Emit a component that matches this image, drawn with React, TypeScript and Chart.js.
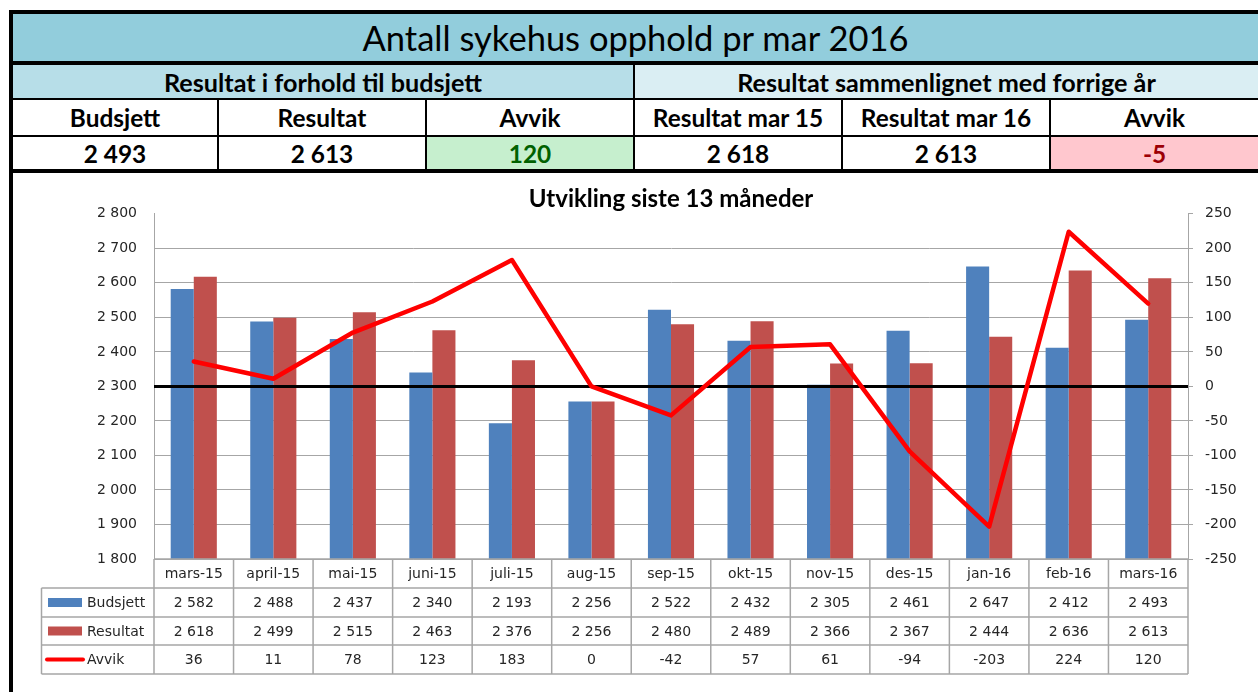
import React, { useEffect, useRef } from 'react';
import { Chart, registerables } from 'chart.js';

Chart.register(...registerables);

// ---------- data ----------
const headerTitle = 'Antall sykehus opphold pr mar 2016';
const groupHeaders = ['Resultat i forhold til budsjett', 'Resultat sammenlignet med forrige år'];
const columnHeaders = ['Budsjett', 'Resultat', 'Avvik', 'Resultat mar 15', 'Resultat mar 16', 'Avvik'];
const columnValues = [2493, 2613, 120, 2618, 2613, -5];

const chartTitle = 'Utvikling siste 13 måneder';
const categories = ['mars-15', 'april-15', 'mai-15', 'juni-15', 'juli-15', 'aug-15', 'sep-15', 'okt-15', 'nov-15', 'des-15', 'jan-16', 'feb-16', 'mars-16'];
const budsjett = [2582, 2488, 2437, 2340, 2193, 2256, 2522, 2432, 2305, 2461, 2647, 2412, 2493];
const resultat = [2618, 2499, 2515, 2463, 2376, 2256, 2480, 2489, 2366, 2367, 2444, 2636, 2613];
const avvik = [36, 11, 78, 123, 183, 0, -42, 57, 61, -94, -203, 224, 120];
const seriesNames = ['Budsjett', 'Resultat', 'Avvik'];

const leftAxis = { min: 1800, max: 2800, step: 100 };
const rightAxis = { min: -250, max: 250, step: 50 };

// ---------- style ----------
const BLUE = '#4F81BD';
const RED = '#C0504D';
const LINE = '#FF0000';
const GRID = '#A6A6A6';
const TEXT = '#262626';
const TICK_FONT = 'DejaVu Sans';
const HEAD_FONT = 'Lato';

const fmt = (v: number) => {
  const neg = v < 0;
  const s = String(Math.abs(v)).replace(/\B(?=(\d{3})+(?!\d))/g, ' ');
  return (neg ? '-' : '') + s;
};

const tablePlugin = {
  id: 'dataTablePlugin',
  beforeDatasetDraw(chart: any, args: any) {
    if (args.index !== 2) return;
    const { ctx, chartArea: a } = chart;
    const y = chart.scales.y1.getPixelForValue(0);
    ctx.save();
    ctx.strokeStyle = '#000';
    ctx.lineWidth = 3;
    ctx.beginPath();
    ctx.moveTo(a.left, y);
    ctx.lineTo(a.right, y);
    ctx.stroke();
    ctx.restore();
  },
  afterDraw(chart: any) {
    const { ctx, chartArea: a } = chart;
    const xs = chart.scales.x;
    const n = categories.length;
    const catW = (a.right - a.left) / n;
    const rows = [a.bottom, a.bottom + 29, a.bottom + 58, a.bottom + 86, a.bottom + 115];
    const legendLeft = 28.5;
    ctx.save();
    ctx.strokeStyle = GRID;
    ctx.lineWidth = 1.5;
    ctx.beginPath();
    ctx.moveTo(a.left, rows[0]);
    ctx.lineTo(a.right, rows[0]);
    for (let r = 1; r < rows.length; r++) {
      ctx.moveTo(legendLeft, rows[r]);
      ctx.lineTo(a.right, rows[r]);
    }
    for (let i = 0; i <= n; i++) {
      const x = a.left + i * catW;
      ctx.moveTo(x, rows[0]);
      ctx.lineTo(x, rows[4]);
    }
    ctx.moveTo(legendLeft, rows[1]);
    ctx.lineTo(legendLeft, rows[4]);
    ctx.stroke();

    ctx.fillStyle = TEXT;
    ctx.font = `14px "${TICK_FONT}"`;
    ctx.textAlign = 'center';
    ctx.textBaseline = 'middle';
    const series = [budsjett, resultat, avvik];
    for (let i = 0; i < n; i++) {
      const cx = xs.getPixelForValue(i);
      ctx.fillText(categories[i], cx, (rows[0] + rows[1]) / 2 + 1);
      for (let s = 0; s < 3; s++) {
        ctx.fillText(fmt(series[s][i]), cx, (rows[s + 1] + rows[s + 2]) / 2 + 1);
      }
    }
    ctx.textAlign = 'left';
    for (let s = 0; s < 3; s++) {
      const cy = (rows[s + 1] + rows[s + 2]) / 2;
      if (s < 2) {
        ctx.fillStyle = s === 0 ? BLUE : RED;
        ctx.fillRect(35, cy - 4.5, 34, 9);
      } else {
        ctx.strokeStyle = LINE;
        ctx.lineWidth = 4;
        ctx.lineCap = 'round';
        ctx.beginPath();
        ctx.moveTo(34, cy);
        ctx.lineTo(70, cy);
        ctx.stroke();
      }
      ctx.fillStyle = TEXT;
      ctx.fillText(seriesNames[s], 74, cy + 1);
    }
    ctx.restore();
  },
};

function ChartBox() {
  const ref = useRef<HTMLCanvasElement>(null);
  useEffect(() => {
    if (!ref.current) return;
    const chart = new Chart(ref.current, {
      data: {
        labels: categories,
        datasets: [
          { type: 'bar', label: seriesNames[0], data: budsjett, backgroundColor: BLUE, yAxisID: 'y', order: 1, categoryPercentage: 0.58, barPercentage: 1, borderWidth: 0 } as any,
          { type: 'bar', label: seriesNames[1], data: resultat, backgroundColor: RED, yAxisID: 'y', order: 1, categoryPercentage: 0.58, barPercentage: 1, borderWidth: 0 } as any,
          { type: 'line', label: seriesNames[2], data: avvik, borderColor: LINE, backgroundColor: LINE, borderWidth: 4.5, pointRadius: 0, tension: 0, yAxisID: 'y1', order: 0, borderJoinStyle: 'round', borderCapStyle: 'round' } as any,
        ],
      },
      options: {
        responsive: false,
        animation: false,
        layout: { padding: 0 },
        plugins: {
          legend: { display: false },
          tooltip: { enabled: false },
          title: {
            display: true,
            text: chartTitle,
            fullSize: false,
            color: '#000',
            font: { family: HEAD_FONT, size: 24, weight: 'bold', lineHeight: 1.2 },
            padding: { top: 12, bottom: 0 },
          },
        },
        scales: {
          x: {
            type: 'category',
            offset: true,
            grid: { display: false },
            border: { display: false },
            ticks: { display: false },
            afterFit: (s: any) => { s.height = 133; },
          },
          y: {
            position: 'left',
            min: leftAxis.min,
            max: leftAxis.max,
            ticks: { stepSize: leftAxis.step, padding: 17, color: TEXT, font: { family: TICK_FONT, size: 14 }, callback: (v: any) => fmt(Number(v)) },
            grid: {
              drawTicks: false,
              color: (c: any) => (c.tick && c.tick.value === leftAxis.max ? 'rgba(0,0,0,0)' : GRID),
              lineWidth: 1,
            },
            border: { display: true, color: GRID, width: 1 },
            afterFit: (s: any) => { s.width = 141; },
          },
          y1: {
            position: 'right',
            min: rightAxis.min,
            max: rightAxis.max,
            ticks: { stepSize: rightAxis.step, padding: 12, color: TEXT, font: { family: TICK_FONT, size: 14 }, callback: (v: any) => fmt(Number(v)) },
            grid: { drawOnChartArea: false, drawTicks: true, tickLength: 5, color: GRID, lineWidth: 1 },
            border: { display: true, color: GRID, width: 1 },
            afterFit: (s: any) => { s.width = 70; },
          },
        },
      } as any,
      plugins: [tablePlugin],
    });
    return () => chart.destroy();
  }, []);
  return (
    <canvas
      ref={ref}
      width={1245}
      height={519}
      style={{ position: 'absolute', left: 13, top: 173, width: 1245, height: 519, display: 'block' }}
    />
  );
}

const box = (left: number, top: number, width: number, height: number, extra: React.CSSProperties = {}): React.CSSProperties => ({
  position: 'absolute',
  left,
  top,
  width,
  height,
  boxSizing: 'border-box',
  ...extra,
});

const centered: React.CSSProperties = {
  display: 'flex',
  alignItems: 'center',
  justifyContent: 'center',
  whiteSpace: 'nowrap',
  overflow: 'hidden',
};

export default function App() {
  const colX = [13, 219, 427, 635, 843, 1051];
  const colEnd = [217, 425, 633, 841, 1049, 1258];
  const valueBg = ['#FFFFFF', '#FFFFFF', '#C6EFCE', '#FFFFFF', '#FFFFFF', '#FFC7CE'];
  const valueColor = ['#000', '#000', '#006100', '#000', '#000', '#9C0006'];
  return (
    <div style={{ position: 'absolute', left: 0, top: 0, width: 1258, height: 692, overflow: 'hidden', background: '#fff', fontFamily: HEAD_FONT }}>
      <div style={box(9, 10, 1249, 4, { background: '#000' })} />
      <div style={box(9, 10, 4, 682, { background: '#000' })} />
      <div style={box(13, 14, 1245, 47, { ...centered, background: '#92CDDC', fontSize: 34.5, color: '#000' })}>{headerTitle}</div>
      <div style={box(13, 61, 1245, 4, { background: '#000' })} />
      <div style={box(13, 65, 620, 33, { ...centered, background: '#B7DEE8', fontSize: 25.2, fontWeight: 700, color: '#000' })}>{groupHeaders[0]}</div>
      <div style={box(633, 65, 2, 33, { background: '#000' })} />
      <div style={box(635, 65, 623, 33, { ...centered, background: '#DAEEF3', fontSize: 25.2, fontWeight: 700, color: '#000' })}>{groupHeaders[1]}</div>
      <div style={box(13, 98, 1245, 2, { background: '#000' })} />
      {columnHeaders.map((h, i) => (
        <div key={'h' + i} style={box(colX[i], 100, colEnd[i] - colX[i], 35, { ...centered, background: '#fff', fontSize: 24.4, fontWeight: 700, color: '#000' })}>{h}</div>
      ))}
      <div style={box(13, 135, 1245, 2, { background: '#000' })} />
      {columnValues.map((v, i) => (
        <div key={'v' + i} style={box(colX[i], 137, colEnd[i] - colX[i], 32, { ...centered, background: valueBg[i], fontSize: 24.4, fontWeight: 700, color: valueColor[i] })}>{fmt(v)}</div>
      ))}
      <div style={box(13, 169, 1245, 4, { background: '#000' })} />
      {colEnd.slice(0, 5).map((x, i) => (
        <div key={'d' + i} style={box(x, 100, 2, 69, { background: '#000' })} />
      ))}
      <ChartBox />
    </div>
  );
}
